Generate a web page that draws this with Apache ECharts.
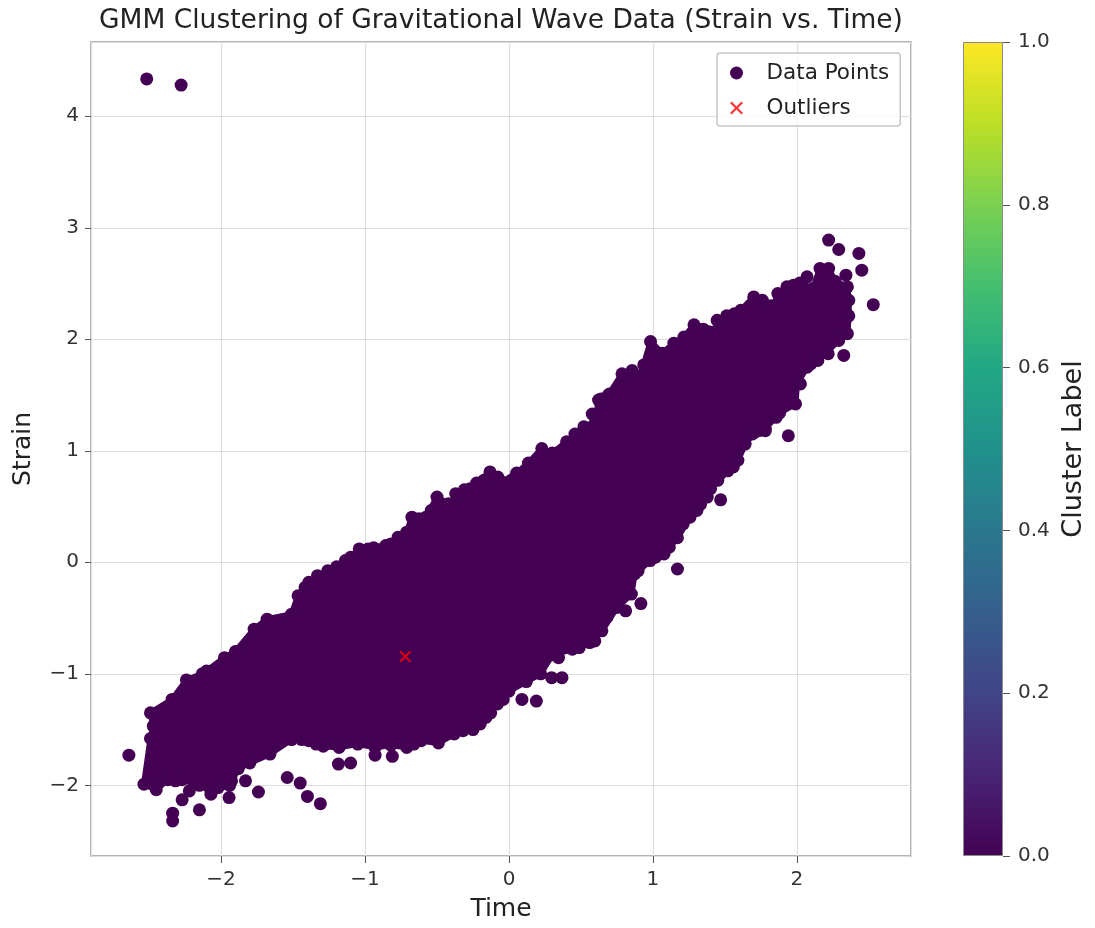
<!DOCTYPE html>
<html>
<head>
    <meta charset="utf-8">
    <title>GMM Clustering of Gravitational Wave Data</title>
    <script src="https://cdn.jsdelivr.net/npm/echarts@6/dist/echarts.min.js"></script>
    <style type="text/css">
        html, body {
            margin: 0;
            padding: 0;
            background: #ffffff;
        }
        #chart {
            width: 1095px;
            height: 928px;
        }
    </style>
</head>
<body>
    <div id="chart"></div>
    <script type="text/javascript">
        // outer edge of the dense core (centres of the outermost dots)
        var coreOutline = [
            [-2.535, -1.99], [-2.49, -1.58], [-2.47, -1.47], [-2.49, -1.35], [-2.34, -1.23],
            [-2.24, -1.055], [-2.13, -1.0], [-2.10, -0.975], [-1.976, -0.855], [-1.90, -0.80],
            [-1.77, -0.60], [-1.68, -0.51], [-1.51, -0.465], [-1.465, -0.30], [-1.33, -0.12],
            [-1.197, -0.04], [-1.10, 0.045], [-1.04, 0.12], [-0.94, 0.13], [-0.82, 0.165],
            [-0.71, 0.27], [-0.674, 0.405], [-0.577, 0.405], [-0.50, 0.585], [-0.42, 0.525],
            [-0.31, 0.65], [-0.225, 0.71], [-0.132, 0.81], [-0.05, 0.72], [0.053, 0.80],
            [0.135, 0.89], [0.228, 1.02], [0.30, 0.98], [0.40, 1.08], [0.52, 1.215],
            [0.60, 1.26], [0.622, 1.455], [0.69, 1.50], [0.785, 1.69], [0.89, 1.64],
            [0.936, 1.77], [0.983, 1.98], [1.064, 1.875], [1.145, 1.965], [1.215, 2.02],
            [1.285, 2.13], [1.447, 2.08], [1.512, 2.21], [1.61, 2.26], [1.70, 2.38],
            [1.82, 2.30], [1.93, 2.47], [2.02, 2.505], [2.11, 2.455], [2.16, 2.635],
            [2.22, 2.635], [2.265, 2.52], [2.35, 2.47], [2.36, 2.35], [2.36, 2.21],
            [2.35, 2.05], [2.29, 1.99], [2.145, 1.81], [2.07, 1.75], [2.0, 1.60],
            [1.99, 1.42], [1.88, 1.34], [1.78, 1.20], [1.70, 1.16], [1.64, 1.06],
            [1.59, 0.915], [1.52, 0.82], [1.40, 0.66], [1.33, 0.52], [1.257, 0.405],
            [1.17, 0.22], [1.077, 0.075], [0.98, 0.015], [0.873, -0.105], [0.85, -0.285],
            [0.75, -0.405], [0.645, -0.615], [0.56, -0.72], [0.44, -0.78], [0.30, -0.83],
            [0.22, -1.0], [0.12, -1.07], [0.0, -1.155], [-0.08, -1.27], [-0.16, -1.39],
            [-0.25, -1.50], [-0.38, -1.54], [-0.49, -1.62], [-0.61, -1.60], [-0.71, -1.66],
            [-0.82, -1.64], [-0.93, -1.66], [-1.05, -1.63], [-1.18, -1.66], [-1.29, -1.65],
            [-1.39, -1.60], [-1.51, -1.59], [-1.66, -1.72], [-1.80, -1.80], [-1.88, -1.85],
            [-1.94, -2.0], [-2.07, -2.05], [-2.15, -2.0], [-2.27, -1.95], [-2.37, -1.95],
            [-2.45, -2.04]
        ];

        // further dots sitting on the rim of the core
        var rimPoints = [
            [-2.036, -0.99], [-1.915, -0.885], [-1.83, -0.795], [-1.73, -0.645], [-1.635, -0.555],
            [-1.416, -0.225], [-1.39, -0.18], [-1.258, -0.075], [-1.136, 0.015], [-0.978, 0.12],
            [-0.856, 0.15], [-0.77, 0.225], [-0.625, 0.39], [-0.54, 0.465], [-0.37, 0.615],
            [-0.27, 0.66], [-0.175, 0.735], [-0.078, 0.765],
            [-0.516, -1.545], [-0.66, -1.63], [-0.88, -1.60], [-1.0, -1.48], [-1.22, -1.57],
            [-1.34, -1.63], [-1.44, -1.59], [-1.586, -1.60], [-1.73, -1.72], [-0.32, -1.51],
            [-0.20, -1.45], [-0.127, -1.35], [-0.04, -1.23],
            [-2.39, -1.72], [-2.365, -1.84], [-2.487, -1.90], [-2.316, -1.96], [-2.22, -2.05],
            [-2.02, -2.02], [-1.927, -1.96],
            [0.344, -0.855], [0.488, -0.765], [0.596, -0.705], [0.68, -0.495], [0.716, -0.375],
            [0.825, -0.255], [0.897, -0.075], [1.017, 0.045], [1.113, 0.135], [1.21, 0.345],
            [1.305, 0.465], [1.377, 0.585], [1.45, 0.735], [1.558, 0.855],
            [1.687, 1.15], [1.855, 1.30], [1.95, 1.45], [2.024, 1.60], [2.096, 1.78],
            [2.217, 1.87], [2.24, 2.08], [2.313, 2.17], [2.325, 2.29],
            [0.458, 1.15], [0.578, 1.33], [0.699, 1.51], [0.855, 1.72], [1.012, 1.87],
            [1.35, 2.09], [1.446, 2.17], [1.566, 2.23], [1.76, 2.35], [1.867, 2.41],
            [1.976, 2.485], [2.07, 2.56]
        ];

        // loose dots outside the core
        var strayPoints = [
            [-2.516, 4.335], [-2.277, 4.28], [-2.64, -1.73], [-2.336, -2.25], [-2.336, -2.32],
            [-2.27, -2.13], [-2.15, -2.22], [-2.07, -2.08], [-1.944, -2.11], [-1.83, -1.96],
            [-1.74, -2.06], [-1.54, -1.93], [-1.45, -1.98], [-1.40, -2.10], [-1.31, -2.165],
            [-1.185, -1.81], [-1.10, -1.80], [-0.93, -1.73], [-0.81, -1.74], [0.09, -1.23],
            [0.19, -1.245], [0.296, -1.035], [0.368, -1.035], [0.916, -0.37], [0.81, -0.435],
            [1.17, -0.06], [1.47, 0.56], [1.94, 1.135], [2.325, 1.855], [2.53, 2.31],
            [2.22, 2.89], [2.29, 2.805], [2.43, 2.77], [2.45, 2.62], [2.34, 2.575],
            [1.735, 1.18], [1.78, 1.18], [0.64, 1.465]
        ];

        var outlierPoints = [[-0.72, -0.845]];

        var clusterTicks = [0, 0.2, 0.4, 0.6, 0.8, 1.0];
        var viridis = ['#440154', '#482475', '#414487', '#355f8d', '#2a788e', '#21918c',
                       '#22a884', '#44bf70', '#7ad151', '#bddf26', '#fde725'];

        var FONT = 'DejaVu Sans';
        var DOT = viridis[0];
        var X_PATH = 'path://M0,1.2L1.2,0L5,3.8L8.8,0L10,1.2L6.2,5L10,8.8L8.8,10L5,6.2L1.2,10L0,8.8L3.8,5Z';

        function minusLabel(v) {
            return v < 0 ? '\u2212' + Math.abs(v) : String(v);
        }

        var chart = echarts.init(document.getElementById('chart'));

        var gradStops = viridis.map(function (c, i) {
            return { offset: i / (viridis.length - 1), color: c };
        });

        var option = {
            animation: false,
            title: {
                text: 'GMM Clustering of Gravitational Wave Data (Strain vs. Time)',
                left: 496,
                top: 3,
                textAlign: 'center',
                textStyle: { fontFamily: FONT, fontSize: 26.5, fontWeight: 'normal', color: '#222' }
            },
            legend: {
                orient: 'vertical',
                left: 717,
                top: 53,
                padding: [8, 11, 6, 13],
                itemWidth: 26,
                itemHeight: 13,
                itemGap: 11,
                borderColor: '#c8c8c8',
                borderWidth: 1.5,
                borderRadius: 3,
                backgroundColor: 'rgba(255,255,255,0.8)',
                textStyle: { fontFamily: FONT, fontSize: 21.5, color: '#222', lineHeight: 24, padding: [0, 0, 0, 12] },
                data: [
                    { name: 'Data Points', icon: 'circle' },
                    { name: 'Outliers', icon: X_PATH }
                ]
            },
            grid: [
                { left: 91, right: 184, top: 42, bottom: 72, show: true, borderColor: '#9a9a9a', borderWidth: 1.5, containLabel: false },
                { left: 963, top: 42, width: 40, height: 814, containLabel: false }
            ],
            xAxis: [
                {
                    type: 'value',
                    min: -2.903,
                    max: 2.792,
                    splitNumber: 5,
                    name: 'Time',
                    nameLocation: 'middle',
                    nameGap: 41,
                    nameTextStyle: { fontFamily: FONT, fontSize: 25, color: '#222' },
                    axisLine: { show: false, onZero: false },
                    axisTick: { show: true, length: 7, lineStyle: { color: '#555' } },
                    axisLabel: {
                        fontFamily: FONT, fontSize: 20, color: '#333', margin: 14,
                        showMinLabel: false, showMaxLabel: false, formatter: minusLabel
                    },
                    splitLine: { show: true, lineStyle: { color: '#dedede', width: 1.2 } }
                },
                { gridIndex: 1, type: 'category', data: ['c'], show: false }
            ],
            yAxis: [
                {
                    type: 'value',
                    min: -2.634,
                    max: 4.666,
                    splitNumber: 5,
                    name: 'Strain',
                    nameLocation: 'middle',
                    nameGap: 55,
                    nameTextStyle: { fontFamily: FONT, fontSize: 25, color: '#222' },
                    axisLine: { show: false, onZero: false },
                    axisTick: { show: true, length: 6, lineStyle: { color: '#555' } },
                    axisLabel: {
                        fontFamily: FONT, fontSize: 20, color: '#333', margin: 12,
                        showMinLabel: false, showMaxLabel: false, formatter: minusLabel
                    },
                    splitLine: { show: true, lineStyle: { color: '#dedede', width: 1.2 } }
                },
                {
                    gridIndex: 1,
                    type: 'value',
                    position: 'right',
                    min: clusterTicks[0],
                    max: clusterTicks[clusterTicks.length - 1],
                    interval: 0.2,
                    name: 'Cluster Label',
                    nameLocation: 'middle',
                    nameRotate: 90,
                    nameGap: 57,
                    nameTextStyle: { fontFamily: FONT, fontSize: 27, color: '#222' },
                    axisLine: { show: false, onZero: false },
                    axisTick: { show: true, length: 7, lineStyle: { color: '#555' } },
                    axisLabel: {
                        fontFamily: FONT, fontSize: 20, color: '#333', margin: 15,
                        formatter: function (v) { return v.toFixed(1); }
                    },
                    splitLine: { show: false }
                }
            ],
            series: [
                {
                    name: 'core',
                    type: 'custom',
                    xAxisIndex: 0,
                    yAxisIndex: 0,
                    silent: true,
                    data: [coreOutline[0]],
                    renderItem: function (params, api) {
                        var pts = coreOutline.map(function (p) { return api.coord(p); });
                        return {
                            type: 'polygon',
                            shape: { points: pts },
                            style: { fill: DOT, stroke: DOT, lineWidth: 6, lineJoin: 'round' }
                        };
                    },
                    z: 1
                },
                {
                    name: 'Data Points',
                    type: 'scatter',
                    xAxisIndex: 0,
                    yAxisIndex: 0,
                    symbol: 'circle',
                    symbolSize: 13,
                    itemStyle: { color: DOT, opacity: 1 },
                    data: coreOutline.concat(rimPoints, strayPoints),
                    z: 2
                },
                {
                    name: 'Outliers',
                    type: 'scatter',
                    xAxisIndex: 0,
                    yAxisIndex: 0,
                    symbol: X_PATH,
                    symbolSize: 12,
                    itemStyle: { color: '#ff0000' },
                    data: outlierPoints,
                    z: 3
                },
                {
                    name: 'colorbar',
                    type: 'bar',
                    xAxisIndex: 1,
                    yAxisIndex: 1,
                    barWidth: '100%',
                    silent: true,
                    data: [clusterTicks[clusterTicks.length - 1]],
                    itemStyle: {
                        color: new echarts.graphic.LinearGradient(0, 1, 0, 0, gradStops),
                        borderColor: '#8a8a8a',
                        borderWidth: 1
                    }
                }
            ]
        };

        chart.setOption(option);
    </script>
</body>
</html>
